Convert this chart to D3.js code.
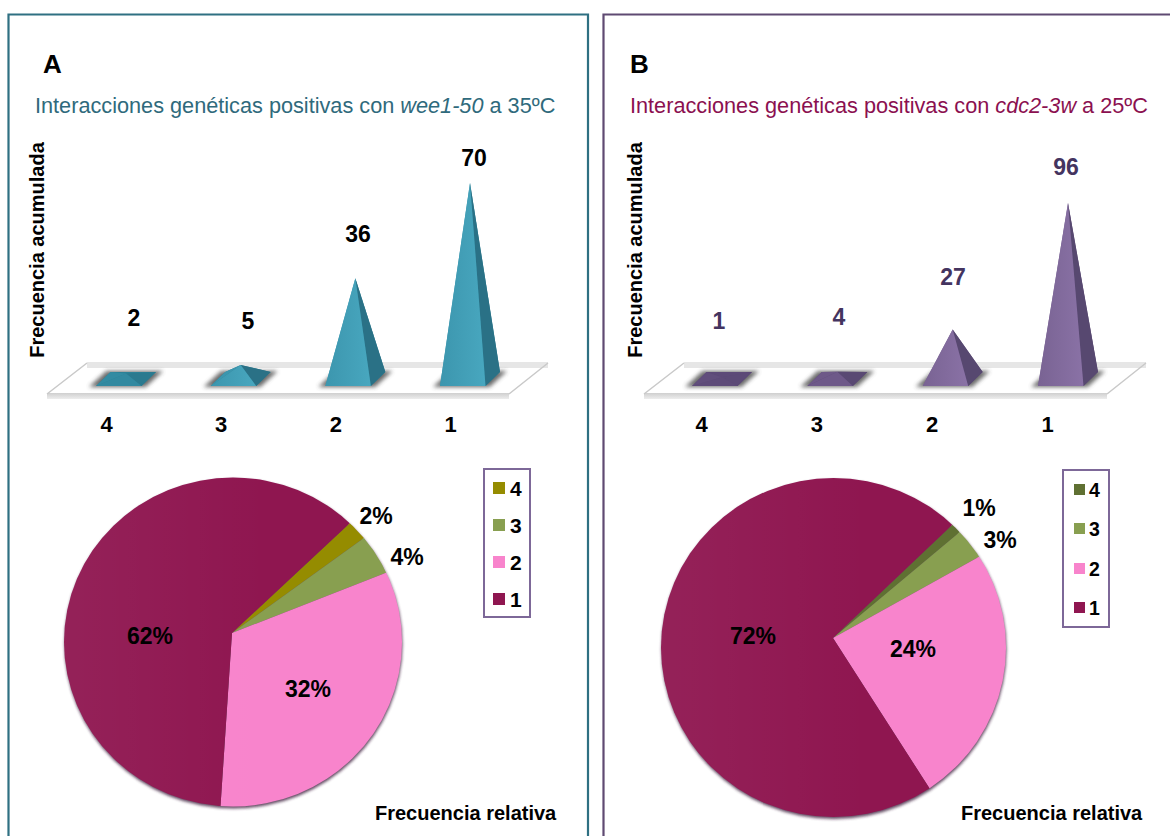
<!DOCTYPE html>
<html>
<head>
<meta charset="utf-8">
<script src="https://cdn.jsdelivr.net/npm/d3@7"></script>
<style>
  html, body { margin: 0; padding: 0; background: #fff; overflow: hidden; }
  svg { display: block; font-family: "Liberation Sans", Arial, sans-serif; }
</style>
</head>
<body>
<svg id="chart" width="1170" height="836"></svg>
<script>
// Number of genetic interactions (categories 4 to 1)
const categories = ["4", "3", "2", "1"];
const valuesWee1 = [2, 5, 36, 70];
const valuesCdc2 = [1, 4, 27, 96];
const percentWee1 = [2, 4, 32, 62];
const percentCdc2 = [1, 3, 24, 72];
const legendOrder = ["4", "3", "2", "1"];

const svg = d3.select("#chart");
const defs = svg.append("defs");

const softEdge = defs.append("filter").attr("id", "soft")
  .attr("x", "-30%").attr("y", "-60%").attr("width", "160%").attr("height", "220%");
softEdge.append("feGaussianBlur").attr("stdDeviation", 2);
const rimBlur = defs.append("filter").attr("id", "rim")
  .attr("x", "-10%").attr("y", "-10%").attr("width", "120%").attr("height", "120%");
rimBlur.append("feGaussianBlur").attr("stdDeviation", 1.5);

// Shared sheen that darkens the pie gradually from left to right
const sheen = defs.append("linearGradient").attr("id", "sheen")
  .attr("x1", 0).attr("x2", 1).attr("y1", 0).attr("y2", 0);
sheen.append("stop").attr("offset", 0).attr("stop-color", "#fff").attr("stop-opacity", 0.05);
sheen.append("stop").attr("offset", 0.6).attr("stop-color", "#fff").attr("stop-opacity", 0);

const floorFront = defs.append("linearGradient").attr("id", "floorFront")
  .attr("x1", 0).attr("x2", 0).attr("y1", 0).attr("y2", 1);
floorFront.append("stop").attr("offset", 0).attr("stop-color", "#cfcfcf");
floorFront.append("stop").attr("offset", 1).attr("stop-color", "#ededed");

const panels = [
  {
    id: "a", letter: "A", letterX: 43,
    border: "M8.5,836V14.5H588V836", borderColor: "#2f7082",
    titleX: 35, titleColor: "#2f6a7c",
    title: ["Interacciones genéticas positivas con ", "wee1-50", " a 35ºC"],
    yTitleX: 44,
    values: valuesWee1, percents: percentWee1,
    xRange: [126, 470], topY: 183, tickShift: -20,
    floor: { fl: 47, fr: 509, br: 548, bl: 87 },
    faceFront: ["#48a7bf", "#3c96ae"], faceRight: "#2a7186", faceBase: "#2c8197",
    valueColor: "#000",
    valueLabels: [[134, 326], [248, 329], [358, 242], [474, 166]],
    pie: { cx: 233, cy: 642, rx: 169, ry: 164.5, ax: 232, ay: 633, start: 47 },
    color4: "#958c00",
    pctLabels: [[376, 524], [407, 565], [308, 697], [150, 644]],
    legend: { x: 484, y: 469, w: 46, h: 148, sx: 493, ss: 12, sy: [482, 519, 556, 593], tx: 510, fs: 21 },
    relX: 375
  },
  {
    id: "b", letter: "B", letterX: 630,
    border: "M603.5,836V14.5H1170", borderColor: "#5f4a72",
    titleX: 630, titleColor: "#8b1050",
    title: ["Interacciones genéticas positivas con ", "cdc2-3w", " a 25ºC"],
    yTitleX: 642,
    values: valuesCdc2, percents: percentCdc2,
    xRange: [722, 1068], topY: 203, tickShift: -21,
    floor: { fl: 644, fr: 1107, br: 1146, bl: 684 },
    faceFront: ["#8a72a6", "#796393"], faceRight: "#574870", faceBase: "#5d4a78",
    valueColor: "#44345f",
    valueLabels: [[719, 329], [839, 325], [953, 285], [1066, 175]],
    pie: { cx: 833.5, cy: 647.5, rx: 172.5, ry: 169.5, ax: 833, ay: 638, start: 46.5 },
    color4: "#5f7032",
    pctLabels: [[979, 516], [1000, 548], [913, 657], [753, 644]],
    legend: { x: 1063, y: 470, w: 46, h: 157, sx: 1074, ss: 11, sy: [484, 523, 563, 602], tx: 1089, fs: 19.5 },
    relX: 961
  }
];

const BOLD = "bold";

panels.forEach(p => {
  const g = svg.append("g").attr("class", "panel-" + p.id);

  g.append("path").attr("d", p.border).attr("fill", "none")
    .attr("stroke", p.borderColor).attr("stroke-width", 2.2);

  g.append("text").attr("x", p.letterX).attr("y", 73)
    .attr("font-size", 26).attr("font-weight", BOLD).text(p.letter);

  const title = g.append("text").attr("x", p.titleX).attr("y", 113)
    .attr("font-size", 21.7).attr("fill", p.titleColor);
  title.selectAll("tspan").data(p.title).join("tspan")
    .attr("font-style", (d, i) => i === 1 ? "italic" : null)
    .text(d => d);

  g.append("text")
    .attr("transform", `translate(${p.yTitleX},250) rotate(-90)`)
    .attr("text-anchor", "middle").attr("font-size", 20).attr("font-weight", BOLD)
    .text("Frecuencia acumulada");

  drawFloor(g, p);
  drawPyramids(g, p);
  drawPie(g, p);
  drawLegend(g, p);

  g.append("text").attr("x", p.relX).attr("y", 820)
    .attr("font-size", 20).attr("font-weight", BOLD).text("Frecuencia relativa");
});

function polygon(points) {
  return "M" + points.map(q => q.join(",")).join("L") + "Z";
}

function drawFloor(g, p) {
  const f = p.floor, top = 363, bottom = 393, lip = 6;
  g.append("path").attr("d", polygon([[f.fl, bottom], [f.bl, top], [f.br, top], [f.fr, bottom]]))
    .attr("fill", "#fff");
  g.append("rect").attr("x", f.bl).attr("y", top - 1).attr("width", f.br - f.bl).attr("height", lip)
    .attr("fill", "#e6e6e6");
  g.append("rect").attr("x", f.fl).attr("y", bottom).attr("width", f.fr - f.fl).attr("height", lip)
    .attr("fill", "url(#floorFront)");
  g.append("path").attr("d", `M${f.fl},${bottom + 1}L${f.bl},${top}M${f.fr},${bottom + 1}L${f.br},${top}`)
    .attr("stroke", "#c9c9c9").attr("stroke-width", 1.5).attr("fill", "none");
}

function drawPyramids(g, p) {
  const x = d3.scalePoint().domain(categories).range(p.xRange);
  const baseY = 379, frontY = 386, backY = 372;
  const y = d3.scaleLinear().domain([0, d3.max(p.values)]).range([baseY, p.topY]);
  // Very flat pyramids catch less light, so their faces stay close to the base colour
  const flatness = d3.scaleLinear().domain([0, 12]).range([0, 1]).clamp(true);

  const grad = defs.append("linearGradient").attr("id", "front-" + p.id)
    .attr("x1", 0).attr("x2", 1).attr("y1", 0).attr("y2", 0);
  grad.append("stop").attr("offset", 0).attr("stop-color", p.faceFront[1]);
  grad.append("stop").attr("offset", 1).attr("stop-color", p.faceFront[0]);

  categories.forEach((c, i) => {
    const cx = x(c), apex = [cx, y(p.values[i])];
    const t = flatness(baseY - apex[1]);
    const fl = [cx - 30, frontY], fr = [cx + 15.5, frontY], br = [cx + 30, backY], bl = [cx - 15.5, backY];
    const node = g.append("g");
    node.append("path").attr("d", polygon([[fl[0] - 7, frontY + 1], [fr[0] + 4, frontY + 1], [br[0] + 7, backY - 1], [bl[0] - 4, backY - 1]]))
      .attr("fill", "#444").attr("opacity", 0.8).attr("filter", "url(#soft)");
    node.append("path").attr("d", polygon([fl, fr, br, bl])).attr("fill", p.faceBase);
    node.append("path").attr("d", polygon([bl, br, apex])).attr("fill", p.faceBase);
    node.append("path").attr("d", polygon([fl, bl, apex])).attr("fill", d3.interpolateRgb(p.faceBase, p.faceFront[1])(t));
    node.append("path").attr("d", polygon([fr, br, apex])).attr("fill", d3.interpolateRgb(p.faceBase, p.faceRight)(t));
    node.append("path").attr("d", polygon([fl, fr, apex]))
      .attr("fill", t < 1 ? d3.interpolateRgb(p.faceBase, p.faceFront[0])(t * t) : `url(#front-${p.id})`);
  });

  // Category axis sits below the floor, shifted left by the perspective of the base
  const axis = g.append("g")
    .attr("transform", `translate(${p.tickShift},416)`)
    .call(d3.axisBottom(x).tickSize(0).tickPadding(0));
  axis.select(".domain").remove();
  axis.selectAll("text").attr("font-size", 22).attr("font-weight", BOLD)
    .attr("font-family", "inherit").attr("fill", "#000").attr("dy", "0.71em");

  g.selectAll(".value-" + p.id).data(p.values).join("text")
    .attr("class", "value-" + p.id)
    .attr("x", (d, i) => p.valueLabels[i][0]).attr("y", (d, i) => p.valueLabels[i][1])
    .attr("text-anchor", "middle").attr("font-size", 23).attr("font-weight", BOLD)
    .attr("fill", p.valueColor).text(d => d);
}

function drawPie(g, p) {
  const c = p.pie;
  const colors = [p.color4, "#889f50", "#f884cc", "#8f1650"];
  const toRad = d => d * Math.PI / 180;

  // Lower rim of the tilted disc
  g.append("ellipse").attr("cx", c.cx + 0.5).attr("cy", c.cy + 2).attr("rx", c.rx).attr("ry", c.ry)
    .attr("fill", "#3b1c3a").attr("opacity", 0.8).attr("filter", "url(#rim)");

  defs.append("clipPath").attr("id", "disc-" + p.id)
    .append("ellipse").attr("cx", c.cx).attr("cy", c.cy).attr("rx", c.rx).attr("ry", c.ry);

  const pie = d3.pie().sort(null)
    .startAngle(toRad(c.start)).endAngle(toRad(c.start) + 2 * Math.PI);
  const arc = d3.arc().innerRadius(0).outerRadius(500);

  const slices = g.append("g").attr("clip-path", `url(#disc-${p.id})`);
  const wedges = slices.append("g").attr("transform", `translate(${c.ax},${c.ay})`);
  wedges.selectAll("path").data(pie(p.percents)).join("path")
    .attr("d", arc).attr("fill", (d, i) => colors[i]);

  g.append("ellipse").attr("cx", c.cx).attr("cy", c.cy).attr("rx", c.rx).attr("ry", c.ry)
    .attr("fill", "url(#sheen)");

  g.selectAll(".pct-" + p.id).data(p.percents).join("text")
    .attr("class", "pct-" + p.id)
    .attr("x", (d, i) => p.pctLabels[i][0]).attr("y", (d, i) => p.pctLabels[i][1])
    .attr("text-anchor", "middle").attr("font-size", 23).attr("font-weight", BOLD)
    .text(d => d + "%");
}

function drawLegend(g, p) {
  const l = p.legend;
  const colors = { "4": p.color4, "3": "#889f50", "2": "#f884cc", "1": "#8f1650" };
  g.append("rect").attr("x", l.x).attr("y", l.y).attr("width", l.w).attr("height", l.h)
    .attr("fill", "#fff").attr("stroke", "#7d6898").attr("stroke-width", 2);
  const rows = g.selectAll(".legend-" + p.id).data(legendOrder).join("g")
    .attr("class", "legend-" + p.id);
  rows.append("rect").attr("x", l.sx).attr("y", (d, i) => l.sy[i])
    .attr("width", l.ss).attr("height", l.ss).attr("fill", d => colors[d]);
  rows.append("text").attr("x", l.tx).attr("y", (d, i) => l.sy[i] + l.ss / 2 + l.fs * 0.36)
    .attr("font-size", l.fs).attr("font-weight", BOLD).text(d => d);
}
</script>
</body>
</html>
